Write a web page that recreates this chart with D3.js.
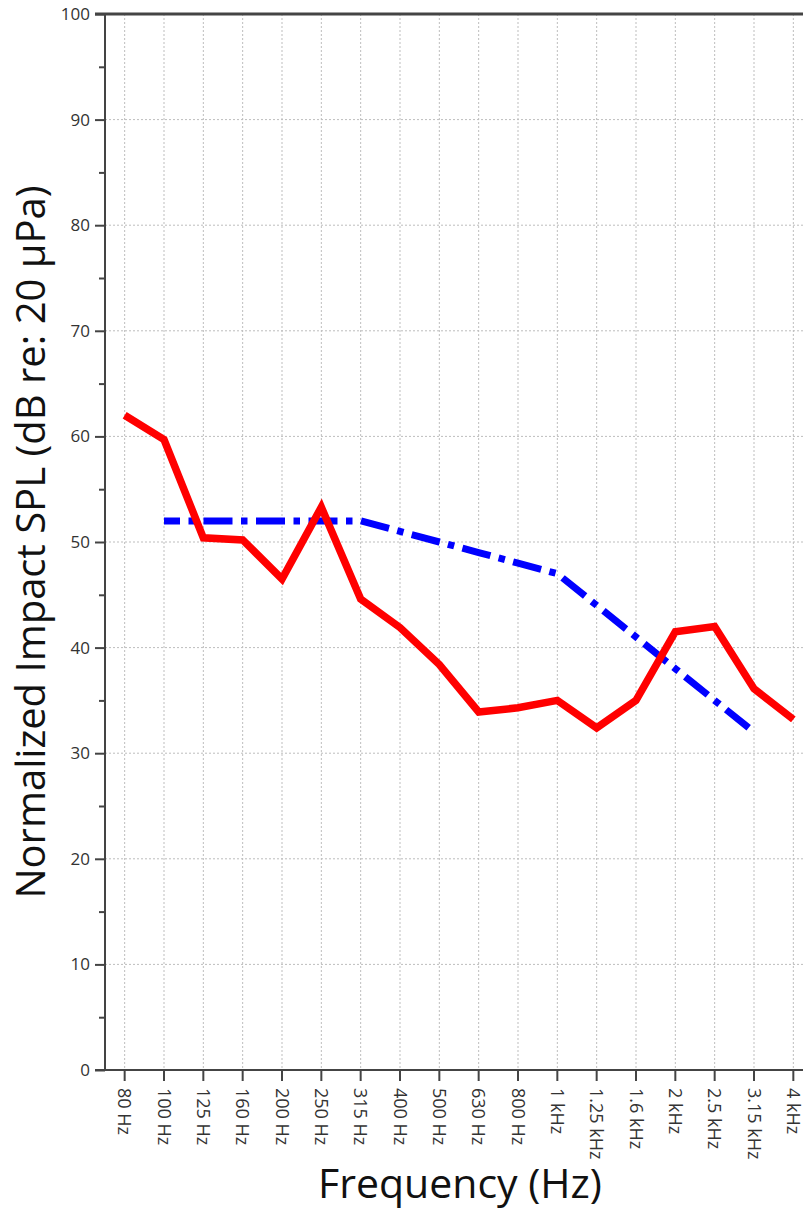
<!DOCTYPE html>
<html>
<head>
<meta charset="utf-8">
<script src="https://cdn.jsdelivr.net/npm/d3@7"></script>
<style>
    body { margin: 0; background: #fff; }
    text { font-family: "Open Sans", "Noto Sans", sans-serif; }
</style>
</head>
<body>
<div id="chart"></div>
<script>
const frequencies = ["80 Hz", "100 Hz", "125 Hz", "160 Hz", "200 Hz", "250 Hz", "315 Hz", "400 Hz", "500 Hz",
    "630 Hz", "800 Hz", "1 kHz", "1.25 kHz", "1.6 kHz", "2 kHz", "2.5 kHz", "3.15 kHz", "4 kHz"];
const measured = [62.0, 59.7, 50.4, 50.2, 46.5, 53.3, 44.6, 41.9, 38.4, 33.9, 34.3, 35.0, 32.4, 35.0, 41.5, 42.0, 36.1, 33.2];
const reference = [null, 52, 52, 52, 52, 52, 52, 51, 50, 49, 48, 47, 44, 41, 38, 35, 32, null];
const yTicks = [0, 10, 20, 30, 40, 50, 60, 70, 80, 90, 100];

const width = 803, height = 1209;
const margin = { top: 14, left: 105, right: -10, bottom: 139 };

const svg = d3.select("#chart")
    .append("svg")
    .attr("width", width)
    .attr("height", height);

const x = d3.scaleBand()
    .domain(frequencies)
    .range([margin.left, width - margin.right]);

const y = d3.scaleLinear()
    .domain([0, 100])
    .range([height - margin.bottom, margin.top]);

const xc = d => x(d) + x.bandwidth() / 2;

// grid
const grid = svg.append("g").attr("class", "grid");
grid.selectAll(".vgrid")
    .data(frequencies)
    .join("line")
    .attr("x1", d => xc(d)).attr("x2", d => xc(d))
    .attr("y1", y(100)).attr("y2", y(0))
    .attr("stroke", "#bdbdbd")
    .attr("stroke-width", 1)
    .attr("stroke-dasharray", "2,2");
grid.selectAll(".hgrid")
    .data(yTicks.filter(d => d > 0 && d < 100))
    .join("line")
    .attr("x1", margin.left).attr("x2", width)
    .attr("y1", d => y(d)).attr("y2", d => y(d))
    .attr("stroke", "#bdbdbd")
    .attr("stroke-width", 1)
    .attr("stroke-dasharray", "2,2");

// lines
const line = d3.line()
    .defined(d => d[1] !== null)
    .x(d => xc(d[0]))
    .y(d => y(d[1]));

svg.append("path")
    .datum(frequencies.map((f, i) => [f, reference[i]]))
    .attr("d", line)
    .attr("fill", "none")
    .attr("stroke", "#0000ff")
    .attr("stroke-width", 7)
    .attr("stroke-dasharray", "29,8.5,6.5,8.5")
    .attr("stroke-dashoffset", 13);

svg.append("path")
    .datum(frequencies.map((f, i) => [f, measured[i]]))
    .attr("d", line)
    .attr("fill", "none")
    .attr("stroke", "#ff0000")
    .attr("stroke-width", 7.5);

// y axis
const yAxis = svg.append("g")
    .attr("transform", `translate(${margin.left},0)`)
    .call(d3.axisLeft(y).tickValues(yTicks).tickSize(10).tickPadding(5));
yAxis.select(".domain").remove();
yAxis.selectAll(".tick line").attr("stroke", "#444").attr("stroke-width", 2);
yAxis.selectAll("text").attr("fill", "#333").style("font-size", "17px");

svg.append("g")
    .attr("transform", `translate(${margin.left},0)`)
    .call(d3.axisLeft(y).tickValues(d3.range(5, 100, 10)).tickSize(6).tickFormat(""))
    .call(g => g.select(".domain").remove())
    .selectAll(".tick line").attr("stroke", "#444").attr("stroke-width", 2);

svg.append("line")
    .attr("x1", margin.left).attr("x2", margin.left)
    .attr("y1", y(100)).attr("y2", y(0))
    .attr("stroke", "#444").attr("stroke-width", 2);

// x axis + top frame
svg.append("line")
    .attr("x1", margin.left - 10).attr("x2", width)
    .attr("y1", y(0)).attr("y2", y(0))
    .attr("stroke", "#444").attr("stroke-width", 2);
svg.append("line")
    .attr("x1", margin.left - 10).attr("x2", width)
    .attr("y1", y(100)).attr("y2", y(100))
    .attr("stroke", "#444").attr("stroke-width", 3);

const xAxis = svg.append("g")
    .attr("transform", `translate(0,${y(0)})`)
    .call(d3.axisBottom(x).tickSize(11).tickPadding(0));
xAxis.select(".domain").remove();
xAxis.selectAll(".tick line").attr("stroke", "#444").attr("stroke-width", 2);
xAxis.selectAll("text")
    .attr("fill", "#333")
    .style("font-size", "18px")
    .style("text-anchor", "start")
    .attr("dy", "0.35em")
    .attr("y", 0)
    .attr("x", 0)
    .attr("transform", "translate(0,18) rotate(90)");

// titles
svg.append("text")
    .attr("x", 460)
    .attr("y", 1198)
    .style("text-anchor", "middle")
    .style("font-size", "41px")
    .attr("fill", "#111")
    .text("Frequency (Hz)");

svg.append("text")
    .attr("transform", "translate(45,542) rotate(-90)")
    .style("text-anchor", "middle")
    .style("font-size", "40px")
    .attr("fill", "#111")
    .text("Normalized Impact SPL (dB re: 20 μPa)");
</script>
</body>
</html>
